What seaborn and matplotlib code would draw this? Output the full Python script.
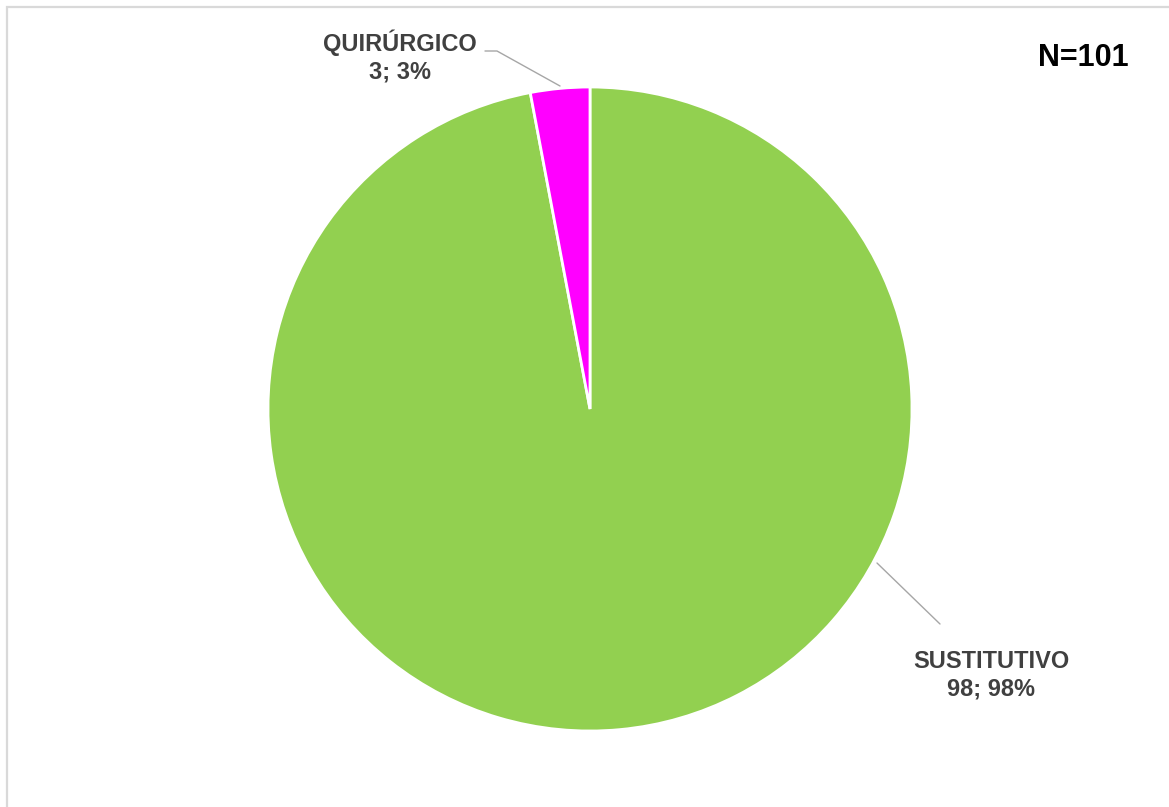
import matplotlib
matplotlib.use("Agg")
import matplotlib.pyplot as plt
import seaborn as sns

categories = ["SUSTITUTIVO", "QUIRÚRGICO"]
values = [98, 3]
pct_labels = ["98%", "3%"]
colors = ["#92D050", "#FF00FF"]
total_label = "N=101"

sns.set_theme(style="white")
plt.rcParams['font.family'] = ['Liberation Sans', 'DejaVu Sans']

W, H = 1169, 807
fig = plt.figure(figsize=(W / 100, H / 100), dpi=100)
fig.patch.set_facecolor("white")

# chart-area border
border = plt.Rectangle((6.5 / W, -0.01), 1.05, 1 - 6.5 / H + 0.01, transform=fig.transFigure,
                       fill=False, edgecolor="#D9D9D9", linewidth=1.6)
fig.add_artist(border)

cx, cy, r = 590, 409, 322
ax = fig.add_axes([(cx - r) / W, (H - cy - r) / H, 2 * r / W, 2 * r / H])

wedges, _ = ax.pie(values, colors=colors, startangle=90, counterclock=False, radius=1,
                   wedgeprops=dict(edgecolor="white", linewidth=2.0))
ax.set_xlim(-1, 1)
ax.set_ylim(-1, 1)
ax.axis("off")

def d(px, py):
    return ((px - cx) / r, (cy - py) / r)

lab_color = "#404040"
# QUIRÚRGICO label
ax.plot(*zip(d(485, 51), d(497, 51), d(560, 86)), color="#A6A6A6", lw=1.0, clip_on=False)
ax.text(*d(400, 57), f"{categories[1]}\n{values[1]}; {pct_labels[1]}", ha="center", va="center",
        fontsize=17, fontweight="bold", color=lab_color, linespacing=1.25, clip_on=False)
# SUSTITUTIVO label
ax.plot(*zip(d(877, 563), d(940, 624)), color="#A6A6A6", lw=1.0, clip_on=False)
ax.text(*d(991, 675), f"{categories[0]}\n{values[0]}; {pct_labels[0]}", ha="center", va="center",
        fontsize=17, fontweight="bold", color=lab_color, linespacing=1.25, clip_on=False)

fig.text(1083 / W, 1 - 58 / H, total_label, ha="center", va="center", fontsize=22,
         fontweight="bold", color="black")

fig.savefig("out.png", dpi=100, facecolor="white")
